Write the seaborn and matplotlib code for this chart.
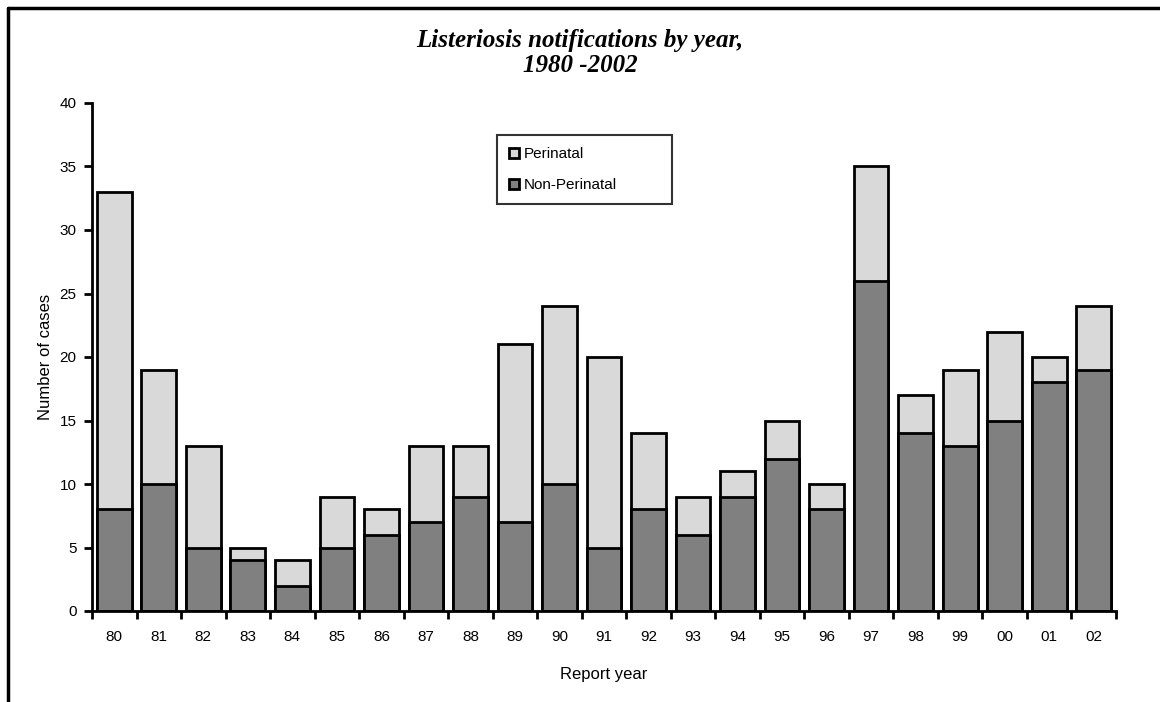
import matplotlib
matplotlib.use("Agg")
import matplotlib.pyplot as plt
import seaborn as sns
import pandas as pd
from matplotlib.patches import Patch
from matplotlib.lines import Line2D

years = ["80", "81", "82", "83", "84", "85", "86", "87", "88", "89", "90", "91",
         "92", "93", "94", "95", "96", "97", "98", "99", "00", "01", "02"]
non_perinatal = [8, 10, 5, 4, 2, 5, 6, 7, 9, 7, 10, 5, 8, 6, 9, 12, 8, 26, 14, 13, 15, 18, 19]
perinatal = [25, 9, 8, 1, 2, 4, 2, 6, 4, 14, 14, 15, 6, 3, 2, 3, 2, 9, 3, 6, 7, 2, 5]

totals = [a + b for a, b in zip(non_perinatal, perinatal)]
df = pd.DataFrame({"year": years, "non": non_perinatal, "total": totals})

sns.set_style("white")
plt.rcParams["font.family"] = ["Liberation Sans", "DejaVu Sans"]
plt.rcParams["text.color"] = "black"
plt.rcParams["axes.labelcolor"] = "black"
plt.rcParams["xtick.color"] = "black"
plt.rcParams["ytick.color"] = "black"

fig = plt.figure(figsize=(11.6, 7.02), dpi=100)
ax = fig.add_axes([92/1160, 1-611/702, (1116-92)/1160, (611-103)/702])

light = "#d9d9d9"
dark = "#808080"
sns.barplot(data=df, x="year", y="total", order=years, color=light, width=0.78,
            edgecolor="black", linewidth=2, saturation=1, ax=ax)
sns.barplot(data=df, x="year", y="non", order=years, color=dark, width=0.78,
            edgecolor="black", linewidth=2, saturation=1, ax=ax)

ax.set_xlim(-0.5, len(years) - 0.5)
ax.set_ylim(0, 40)
ax.set_yticks(range(0, 41, 5))
ax.tick_params(axis="y", which="major", direction="out", length=6, width=2,
               labelsize=11, pad=5, left=True)
ax.tick_params(axis="x", which="major", length=0, labelsize=11, pad=14)
ax.set_xticks([i - 0.5 for i in range(len(years) + 1)], minor=True)
ax.tick_params(axis="x", which="minor", direction="out", length=6, width=2, bottom=True)

for s in ["top", "right"]:
    ax.spines[s].set_visible(False)
for s in ["left", "bottom"]:
    ax.spines[s].set_linewidth(2)
    ax.spines[s].set_color("black")

ax.set_xlabel("Report year", fontsize=12, labelpad=16)
ax.set_ylabel("Number of cases", fontsize=12, labelpad=5)

fig.text(580/1160, 1-53/702, "Listeriosis notifications by year,\n1980 -2002",
         ha="center", va="center", fontsize=18, fontstyle="italic",
         fontweight="bold", family=["Liberation Serif", "DejaVu Serif"], linespacing=1.15)

handles = [Patch(facecolor=light, edgecolor="black", linewidth=2, label="Perinatal"),
           Patch(facecolor=dark, edgecolor="black", linewidth=2, label="Non-Perinatal")]
leg = fig.legend(handles=handles, loc="upper left", mode="expand",
                 bbox_to_anchor=(497/1160, 1-210/702, 175/1160, 75/702),
                 frameon=True, fancybox=False,
                 edgecolor="black", fontsize=11, handlelength=0.65, handleheight=0.65,
                 handletextpad=0.3, labelspacing=1.1, borderpad=0.8,
                 borderaxespad=0)
leg.get_frame().set_linewidth(1.5)

fig.add_artist(Line2D([8/1160, 8/1160], [0, 1-8/702], color="black", linewidth=2.5,
                      transform=fig.transFigure))
fig.add_artist(Line2D([8/1160, 1], [1-8/702, 1-8/702], color="black", linewidth=2.5,
                      transform=fig.transFigure))

fig.savefig("out.png", dpi=100, facecolor="white")
